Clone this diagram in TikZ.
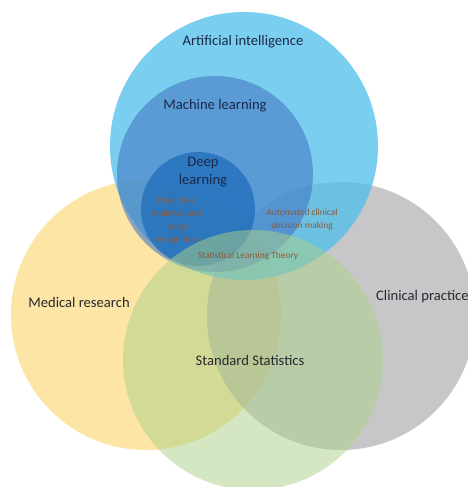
\documentclass[tikz,border=0pt]{standalone}
\usepackage{fontspec}
\setmainfont{Carlito}
\begin{document}
\begin{tikzpicture}[x=1pt,y=-1pt,
  set/.style={draw=none},
  biglabel/.style={font=\fontsize{14.6}{18}\selectfont, text=labeldark, align=center, inner sep=0pt},
  smalllabel/.style={font=\fontsize{9.4}{13}\selectfont, text=labelbrown, align=center, inner sep=0pt}]
\definecolor{aiblue}{RGB}{78,190,235}
\definecolor{mlblue}{RGB}{69,121,198}
\definecolor{dlblue}{RGB}{17,97,182}
\definecolor{medyellow}{RGB}{253,213,105}
\definecolor{clingrey}{RGB}{163,163,166}
\definecolor{statgreen}{RGB}{171,209,135}
\definecolor{labeldark}{RGB}{40,40,45}
\definecolor{labelnavy}{RGB}{28,40,70}
\definecolor{labelbrown}{RGB}{140,90,58}
\useasboundingbox (0,0) rectangle (468,487);
\clip (0,0) rectangle (468,487);
\fill[white] (0,0) rectangle (468,487);
% lower sets
\fill[set, medyellow, opacity=0.6] (146,315) circle[radius=135];
\fill[set, clingrey, opacity=0.6] (341,316) circle[radius=134];
% nested AI sets
\fill[set, aiblue, opacity=0.75] (244,146) circle[radius=134];
\fill[set, mlblue, opacity=0.6] (215,174) circle[radius=98];
\fill[set, dlblue, opacity=0.6] (198,209) circle[radius=57];
% statistics on top
\fill[set, statgreen, opacity=0.5] (253,360) circle[radius=130];
% labels
\node[biglabel, text=labelnavy] (ai) at (243,42) {Artificial intelligence};
\node[biglabel, text=labelnavy] (ml) at (215,106) {Machine learning};
\node[biglabel, text=labelnavy] (dl) at (203,172) {Deep\\learning};
\node[smalllabel] (pred) at (176,221) {Predictive\\Analytics and\\Image\\recognition};
\node[smalllabel] (auto) at (302,220) {Automated clinical\\decision making};
\node[smalllabel] (slt) at (248,256) {Statistical Learning Theory};
\node[biglabel] (med) at (79,302) {Medical research};
\node[biglabel, anchor=west] (clin) at (376,297) {Clinical practice};
\node[biglabel] (std) at (250,360) {Standard Statistics};
\end{tikzpicture}
\end{document}
